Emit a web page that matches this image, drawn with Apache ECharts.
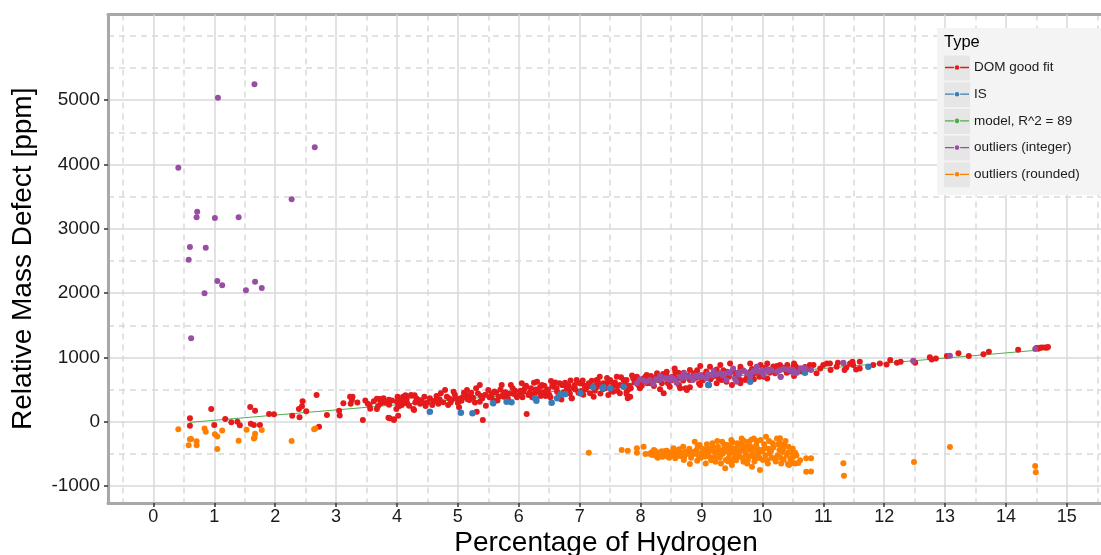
<!DOCTYPE html>
<html>
<head>
<meta charset="utf-8">
<script src="https://cdn.jsdelivr.net/npm/echarts@6/dist/echarts.min.js"></script>
<style>
html,body{margin:0;padding:0;background:#fff;}
#chart{width:1101px;height:555px;}
</style>
</head>
<body>
<div id="chart"></div>
<script>
// ---- tick values ----
const xTicks = [0,1,2,3,4,5,6,7,8,9,10,11,12,13,14,15];
const xMinorTicks = [-0.5,0.5,1.5,2.5,3.5,4.5,5.5,6.5,7.5,8.5,9.5,10.5,11.5,12.5,13.5,14.5,15.5];
const yTicks = [-1000,0,1000,2000,3000,4000,5000];
const yMinorTicks = [-500,500,1500,2500,3500,4500,5500,6000];

const legendNames = ['DOM good fit','IS','model, R^2 = 89','outliers (integer)','outliers (rounded)'];

// ---- data: [percentage of hydrogen, relative mass defect ppm] ----
const domGoodFit = [
[0.60,53],[0.60,-62],[0.95,197],[1.00,-51],[1.18,42],[1.28,-10],[1.38,0],[1.42,-56],[1.59,229],[1.67,171],
[1.60,-31],[1.65,-51],[1.75,-51],[1.90,120],[1.98,115],[2.28,93],[2.39,197],[2.45,317],[2.44,240],[2.51,162],
[2.40,68],[2.68,415],[2.72,-78],[2.85,104],[3.05,171],[3.06,96],[3.12,286],[3.23,389],[3.26,337],[3.24,281],
[3.27,389],[3.44,26],[3.55,259],[3.56,200],[3.67,358],[3.71,353],[3.67,197],[3.75,353],[3.86,62],[3.87,342],
[3.95,26],[3.99,197],[4.01,389],[4.10,389],[4.14,410],[4.24,405],[4.27,197],[4.29,410],[4.17,285],[4.06,270],
[4.02,243],[3.87,264],[3.73,285],[3.69,243],[3.78,364],[3.88,53],[3.95,37],[4.02,93],[4.04,244],[4.08,260],
[4.16,353],[4.23,415],[4.28,182],[4.36,337],[4.42,295],[4.47,244],[4.54,364],[4.62,327],[4.72,441],[4.79,493],
[4.76,301],[4.84,260],[4.90,337],[4.93,467],[4.97,364],[5.02,224],[5.06,327],[5.13,415],[5.15,493],[5.19,337],
[5.25,374],[5.30,519],[5.31,157],[5.36,571],[5.36,312],[5.41,26],[5.46,250],[5.50,493],[5.58,337],[5.63,451],
[5.67,389],[5.72,571],[5.75,389],[5.80,415],[5.87,571],[5.94,483],[6.01,415],[6.05,597],[6.08,467],[6.13,120],
[6.16,415],[6.25,607],[6.32,467],[6.38,571],[6.44,399],[6.53,633],[6.57,545],[6.63,467],[6.71,571],[6.76,607],
[6.87,364],[6.79,519],[6.92,571],[7.01,597],[7.03,478],[7.12,535],[7.20,638],[7.27,571],[7.33,700],[7.38,504],
[7.44,597],[7.50,648],[7.55,555],[7.61,700],[7.66,571],[7.72,648],[7.77,431],[7.79,364],[7.84,519],[7.88,674],
[7.96,571],[8.05,674],[8.11,597],[8.17,710],[8.22,555],[8.30,648],[8.37,741],[8.45,597],[8.52,700],[8.57,778],
[8.63,571],[8.68,700],[8.74,519],[8.81,648],[8.88,752],[8.96,597],[9.04,726],[9.12,571],[9.18,700],[9.25,814],
[9.33,648],[9.42,778],[9.50,571],[9.56,700],[9.64,814],[9.72,648],[9.80,778],[9.91,855],[10.02,700],[10.10,814],
[10.21,752],[10.84,882],[10.95,829],[11.06,907],[11.12,804],[11.22,855],[11.38,845],[11.49,882],[11.54,814],[10.52,907],
[10.41,882],[10.24,866],[10.08,907],[9.97,882],[9.80,907],[9.64,855],[9.47,907],[9.31,882],[9.14,855],[8.98,866],
[8.81,804],[8.71,762],[8.56,829],[8.43,778],[8.27,752],[8.16,597],[8.32,504],[8.48,545],[8.65,519],[8.81,535],
[8.98,571],[9.25,597],[9.41,622],[9.64,648],[9.86,659],[10.08,674],[10.30,700],[10.52,710],[9.64,597],[8.76,493],
[8.38,441],[7.99,519],[7.77,467],[7.83,389],[7.66,441],[7.50,622],[7.39,597],[7.28,648],[7.17,441],[7.01,597],
[6.90,519],[6.81,493],[6.73,571],[6.70,347],[6.87,364],[7.23,389],[7.55,467],[7.77,648],[7.94,700],[8.10,726],
[7.28,535],[7.47,415],[10.29,882],[10.40,804],[10.51,855],[10.62,829],[10.78,882],[10.89,752],[11.00,882],[11.11,907],
[11.24,917],[11.35,804],[11.44,907],[11.48,933],[11.60,933],[11.60,829],[11.82,882],[11.93,907],[12.04,891],[12.10,959],
[12.21,917],[12.27,933],[12.48,949],[12.51,917],[12.75,1001],[12.78,969],[12.85,985],[13.03,1021],[13.22,1063],[13.39,1021],
[13.63,1048],[13.72,1089],[14.20,1120],[14.50,1146],[14.59,1156],[14.64,1156],[14.67,1151],[14.69,1161],[14.53,1136],[14.56,1150],
[6.20,520],[6.35,540],[6.48,500],[6.60,610],[6.95,650],[7.08,560],[7.15,600],[7.42,520],[7.58,610],[7.70,560],
[7.90,610],[8.00,640],[8.20,660],[8.40,690],[8.60,660],[8.85,700],[9.00,680],[9.20,760],[9.40,720],[9.60,760],
[9.85,740],[10.00,780],[10.20,820],[10.40,760],[10.60,800],[10.70,850],[5.55,420],[5.85,440],[6.10,520],[6.40,460],
[4.05,330],[4.12,300],[4.20,250],[4.32,360],[4.38,280],[4.45,390],[4.50,300],[4.58,260],[4.65,400],[4.70,350],
[4.82,390],[4.88,300],[4.95,420],[5.00,290],[5.08,380],[5.10,450],[5.20,400],[5.28,300],[5.33,440],[5.40,360],
[5.45,420],[5.52,380],[5.60,470],[5.65,330],[5.70,500],[5.78,460],[5.82,360],[5.90,520],[5.97,380],[6.03,480],
[6.12,560],[6.18,450],[6.22,380],[6.28,500],[6.30,620],[6.42,560],[6.46,480],[6.50,420],[6.55,560],[6.62,520],
[6.67,600],[6.74,460],[6.82,560],[6.85,640],[6.93,500],[6.98,450],[7.05,640],[7.10,500],[7.18,560],[7.25,480],
[7.30,620],[7.36,560],[7.45,680],[7.52,480],[7.60,560],[7.68,690],[7.75,600],[7.82,560],[7.86,720],[7.93,630],
[8.02,560],[8.08,700],[8.13,650],[8.25,690],[8.35,600],[8.42,720],[8.50,640],[8.55,700],[8.62,760],[8.70,640],
[8.78,720],[8.90,680],[8.93,800],[9.02,640],[9.08,780],[9.15,660],[9.22,720],[9.28,680],[9.36,800],[9.45,700],
[9.52,780],[9.58,660],[9.68,800],[9.75,700],[9.83,820],[9.88,760],[9.95,700],[10.05,840],[10.12,760],[10.18,860],
[10.26,800],[10.35,840],[10.45,780],[10.55,860],[10.65,780],[10.75,820],
[3.35,300],[3.48,330],[3.52,280],[3.62,320],[3.80,300],[3.92,330],[4.00,310],[4.15,330],[4.30,300],[4.40,330],
[4.60,320],[4.68,280],[4.86,360],[5.04,360],[5.16,350],[5.22,450],[5.38,400],[5.56,440],[5.74,420],[5.92,430],
[6.06,380],[6.26,440],[6.36,400],[6.52,380],[6.66,420],[6.84,440],[7.06,420],[7.34,440],[7.62,480],[7.80,500]
];

const isPoints = [
[4.54,156],[5.05,140],[5.24,130],[5.58,286],[5.80,311],[5.88,301],[6.27,364],[6.29,327],[6.54,296],[6.63,364],
[6.68,425],[6.76,430],[7.01,441],[7.22,535],[7.38,519],[7.50,519],[7.72,545],[9.12,571],[9.80,622],[10.70,762],
[11.74,855],[6.76,431],[7.39,535],[9.11,571]
];

const modelLine = [[0.60,-10],[14.69,1126]];

const outliersInteger = [
[1.66,5247],[1.06,5039],[2.65,4268],[0.41,3950],[2.27,3459],[0.72,3266],[0.71,3179],[1.01,3168],[1.40,3179],[0.60,2717],
[0.86,2706],[0.58,2519],[1.05,2188],[1.13,2121],[1.67,2177],[1.52,2043],[1.78,2079],[0.84,1997],[0.62,1297],
[7.94,597],[8.10,622],[8.32,648],[8.48,648],[8.65,700],[8.81,700],[8.98,726],[9.14,726],[9.31,752],[9.47,752],
[9.55,674],[9.64,778],[9.75,752],[9.86,793],[9.97,778],[10.08,814],[10.24,778],[10.41,814],[10.52,752],[10.63,829],
[10.80,804],[11.33,917],[8.21,586],[8.59,607],[8.86,648],[9.08,674],[9.41,648],[9.57,622],[9.80,700],[10.02,726],
[10.30,700],[10.57,762],[7.99,659],[8.32,710],[8.71,752],[9.20,793],[9.52,829],[9.91,855],[11.33,908],[12.48,944],
[13.08,1027],[14.48,1131],
[8.05,640],[8.15,650],[8.25,660],[8.40,680],[8.50,690],[8.55,660],[8.75,700],[8.90,720],[9.00,700],[9.10,740],
[9.25,740],[9.35,720],[9.45,770],[9.60,760],[9.70,790],[9.90,790],[10.00,800],[10.15,800],[10.35,820],[10.45,800],
[10.70,830],[8.44,670],[8.68,680],[8.95,700],[9.18,720],[9.38,745],[9.62,740],[9.84,770],[10.10,780],[10.28,800],[10.50,810]
];

const outliersRounded = [
[0.41,-119],[0.60,-274],[0.62,-267],[0.58,-367],[0.71,-305],[0.71,-367],[0.84,-104],[0.86,-155],[1.01,-196],[1.05,-228],
[1.05,-425],[1.13,-135],[1.40,-295],[1.53,-124],[1.67,-187],[1.66,-249],[1.65,-259],[1.78,-129],[2.27,-300],[2.64,-119],
[2.66,-104],
[7.15,-482],[7.69,-440],[7.79,-450],[7.94,-413],[7.94,-482],[8.05,-388],[8.08,-502],[8.19,-518],[8.32,-482],[8.36,-544],
[8.43,-450],[8.45,-544],[8.49,-492],[8.54,-413],[8.57,-570],[8.62,-466],[8.65,-534],[8.70,-388],[8.71,-596],[8.76,-466],
[8.81,-658],[8.84,-518],[8.89,-311],[8.92,-440],[8.93,-606],[8.97,-362],[9.00,-492],[9.07,-648],[9.10,-413],[9.13,-544],
[9.18,-336],[9.21,-466],[9.23,-622],[9.27,-388],[9.31,-518],[9.34,-311],[9.36,-440],[9.39,-725],[9.40,-596],[9.43,-362],
[9.46,-492],[9.49,-285],[9.50,-674],[9.52,-413],[9.55,-544],[9.59,-336],[9.63,-466],[9.66,-259],[9.69,-622],[9.71,-388],
[9.74,-518],[9.78,-311],[9.81,-440],[9.83,-700],[9.86,-259],[9.88,-570],[9.90,-362],[9.93,-492],[9.96,-751],[9.97,-285],
[10.01,-596],[10.04,-413],[10.06,-233],[10.09,-648],[10.12,-492],[10.17,-336],[10.20,-570],[10.24,-259],[10.28,-440],[10.31,-648],
[10.36,-362],[10.40,-518],[10.44,-674],[10.49,-492],[10.54,-648],[10.72,-570],[10.72,-777],
[8.15,-500],[8.20,-470],[8.25,-530],[8.30,-505],[8.35,-460],[8.40,-520],[8.28,-560],[8.22,-440],[8.38,-495],[8.45,-475],
[8.50,-525],[8.55,-445],[8.60,-500],[8.66,-480],[8.72,-540],[8.78,-500],[8.86,-470],[8.95,-520],[9.05,-470],[9.15,-420],
[9.25,-480],[9.30,-560],[9.38,-400],[9.45,-560],[9.48,-440],[9.53,-600],[9.58,-450],[9.62,-540],[9.68,-420],[9.72,-480],
[9.76,-600],[9.80,-380],[9.85,-520],[9.92,-420],[9.95,-560],[10.00,-460],[10.10,-420],[10.15,-560],[10.25,-520],[10.33,-470],
[8.18,-480],[8.24,-455],[8.26,-510],[8.31,-540],[8.33,-470],[8.36,-500],[8.41,-455],[8.44,-510],[8.47,-560],[8.52,-470],
[8.58,-520],[8.63,-430],[8.68,-500],[8.74,-470],[8.80,-420],[8.83,-560],[8.90,-500],[8.94,-380],[8.99,-560],[9.02,-420],
[9.06,-540],[9.09,-350],[9.12,-480],[9.16,-600],[9.19,-400],[9.22,-540],[9.26,-300],[9.29,-450],[9.32,-650],[9.35,-500],
[9.37,-350],[9.41,-460],[9.44,-620],[9.47,-400],[9.51,-320],[9.54,-480],[9.57,-600],[9.60,-380],[9.61,-520],[9.65,-340],
[9.67,-560],[9.70,-300],[9.73,-440],[9.75,-650],[9.77,-360],[9.79,-540],[9.82,-280],[9.84,-480],[9.87,-620],[9.89,-400],
[9.91,-300],[9.94,-560],[9.98,-440],[10.03,-350],[10.05,-520],[10.08,-600],[10.11,-300],[10.14,-460],[10.18,-400],[10.22,-620],
[10.26,-350],[10.30,-560],[10.34,-430],[10.38,-300],[10.46,-580],[10.50,-420],[10.56,-520],[10.62,-600],
[10.29,-258],[10.29,-336],[10.32,-413],[10.43,-388],[10.43,-476],[10.51,-543],[10.54,-481],[10.35,-590],[10.42,-657],[10.51,-641],
[10.59,-641],[10.80,-569],[10.80,-776],[11.33,-647],[11.34,-839],[12.49,-626],[13.08,-393],[14.48,-689],[14.49,-787]
];

const colors = ['#E41A1C','#377EB8','#4DAF4A','#984EA3','#FF7F00'];
const FONT = "'Liberation Sans', Arial, Helvetica, sans-serif";
const gridColor = '#d9d9d9';
const borderColor = '#a8a8a8';

const chart = echarts.init(document.getElementById('chart'), null, {renderer:'canvas'});

const legendIcon = 'path://M0,1.8 L9.6,1.8 L9.6,3.2 L0,3.2 Z M16.4,1.8 L26,1.8 L26,3.2 L16.4,3.2 Z M15.5,2.5 A2.5,2.5 0 1 1 10.5,2.5 A2.5,2.5 0 1 1 15.5,2.5 Z';

const X_MIN = -0.745, X_MAX = 15.61, Y_MIN = -1264, Y_MAX = 6333;

const keyRects = [0,1,2,3,4].map(i => ({
  type:'rect', z:51, shape:{x:944, y:55.5 + i*26.7, width:26, height:25},
  style:{fill:'#e6e6e6'}
}));

const plain = v => String(v);

const option = {
  animation:false,
  textStyle:{fontFamily:FONT},
  grid:{left:108, right:-3, top:14.5, bottom:52, containLabel:false, outerBoundsMode:'none'},
  legend:{
    data:legendNames.map(n => ({name:n, icon:legendIcon})),
    orient:'vertical', left:945, top:59.5, padding:0, itemGap:10.7,
    itemWidth:24, itemHeight:5, z:60,
    textStyle:{fontFamily:FONT, fontSize:13.5, color:'#1a1a1a', lineHeight:16}
  },
  graphic:[
    {type:'rect', z:50, shape:{x:937, y:28, width:170, height:167}, style:{fill:'#f4f4f4'}},
    ...keyRects,
    {type:'text', z:52, left:944, top:34, style:{text:'Type', fontFamily:FONT, fontSize:16.5, fill:'#000'}}
  ],
  xAxis:[
    {
      type:'value', min:X_MIN, max:X_MAX, position:'bottom',
      name:'Percentage of Hydrogen', nameLocation:'middle', nameGap:26, nameMoveOverlap:false,
      nameTextStyle:{fontFamily:FONT, fontSize:28, color:'#000'},
      axisLine:{show:true, onZero:false, lineStyle:{color:borderColor, width:3}},
      axisTick:{show:true, customValues:xTicks, length:4, lineStyle:{color:'#333', width:1.5}},
      axisLabel:{customValues:xTicks, formatter:plain, fontFamily:FONT, fontSize:18, color:'#1a1a1a', margin:5},
      splitLine:{show:true, lineStyle:{color:gridColor, width:1.5}},
      z:3
    },
    {
      type:'value', min:X_MIN, max:X_MAX, position:'top',
      axisLine:{show:true, onZero:false, lineStyle:{color:borderColor, width:3}},
      axisTick:{show:false, customValues:xMinorTicks},
      axisLabel:{show:false, customValues:xMinorTicks},
      splitLine:{show:true, lineStyle:{color:gridColor, width:1.5, type:[6,5]}},
      z:2
    }
  ],
  yAxis:[
    {
      type:'value', min:Y_MIN, max:Y_MAX, position:'left',
      name:'Relative Mass Defect [ppm]', nameLocation:'middle', nameGap:71,
      nameTextStyle:{fontFamily:FONT, fontSize:28, color:'#000'},
      axisLine:{show:true, onZero:false, lineStyle:{color:borderColor, width:3}},
      axisTick:{show:true, customValues:yTicks, length:4, lineStyle:{color:'#333', width:1.5}},
      axisLabel:{customValues:yTicks, formatter:plain, fontFamily:FONT, fontSize:19, color:'#1a1a1a', margin:8},
      splitLine:{show:true, lineStyle:{color:gridColor, width:1.5}},
      z:3
    },
    {
      type:'value', min:Y_MIN, max:Y_MAX, position:'right',
      axisLine:{show:false},
      axisTick:{show:false, customValues:yMinorTicks},
      axisLabel:{show:false, customValues:yMinorTicks},
      splitLine:{show:true, lineStyle:{color:gridColor, width:1.5, type:[6,5]}},
      z:2
    }
  ],
  series:[
    {name:legendNames[0], type:'scatter', data:domGoodFit, symbolSize:6, itemStyle:{color:colors[0], opacity:1}, z:3},
    {name:legendNames[1], type:'scatter', data:isPoints, symbolSize:6.5, itemStyle:{color:colors[1], opacity:1}, z:3},
    {name:legendNames[2], type:'line', data:modelLine, showSymbol:false, symbol:'none', lineStyle:{color:colors[2], width:1}, itemStyle:{color:colors[2]}, z:3},
    {name:legendNames[3], type:'scatter', data:outliersInteger, symbolSize:6, itemStyle:{color:colors[3], opacity:1}, z:3},
    {name:legendNames[4], type:'scatter', data:outliersRounded, symbolSize:6, itemStyle:{color:colors[4], opacity:1}, z:3}
  ]
};
chart.setOption(option);
</script>
</body>
</html>
